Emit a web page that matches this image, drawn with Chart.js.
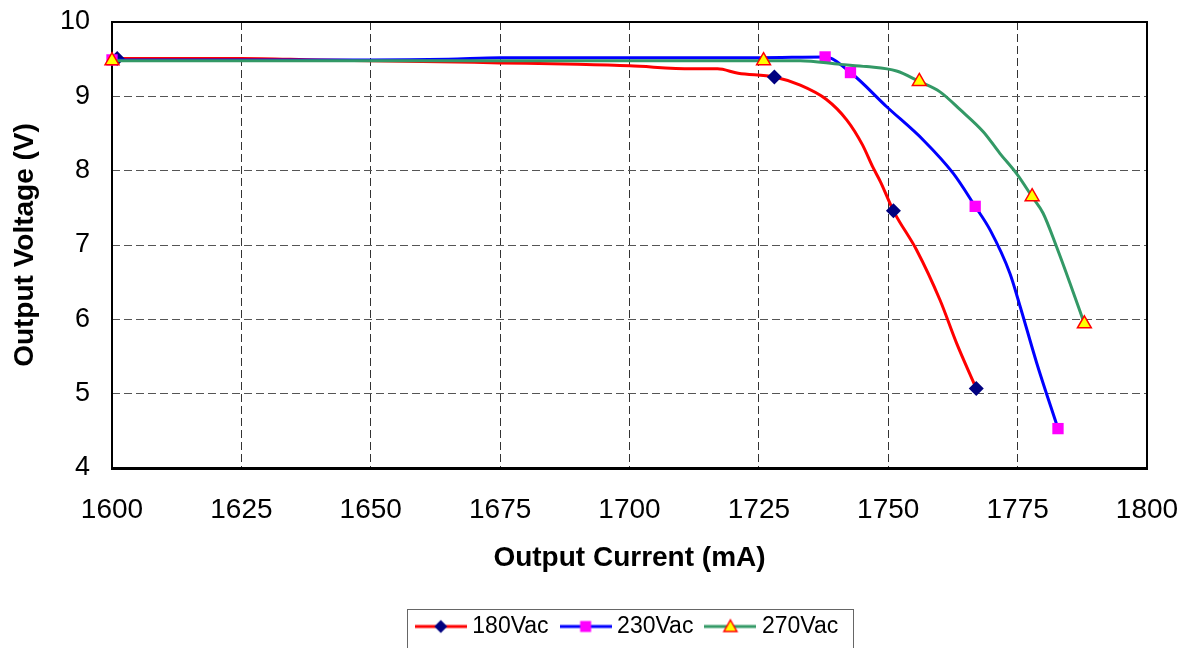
<!DOCTYPE html>
<html>
<head>
<meta charset="utf-8">
<script src="https://cdn.jsdelivr.net/npm/chart.js@4.4.1/dist/chart.umd.min.js"></script>
<style>
  html, body { margin: 0; padding: 0; background: #fff; }
</style>
</head>
<body>
<canvas id="ivChart" width="1190" height="648"></canvas>
<script>
// Output current (mA) vs output voltage (V), three input voltages
const seriesNames = ['180Vac', '230Vac', '270Vac'];

const current180 = [1601, 1625, 1640, 1660, 1675, 1690, 1700, 1712, 1717, 1721, 1728, 1733, 1738, 1742, 1745, 1747, 1748.5, 1751, 1755.5, 1760, 1763.2, 1767];
const voltage180 = [9.51, 9.51, 9.49, 9.47, 9.45, 9.43, 9.41, 9.37, 9.37, 9.31, 9.26, 9.15, 8.96, 8.68, 8.35, 8.05, 7.85, 7.46, 6.93, 6.26, 5.68, 5.07];
const marked180 = [0, 10, 17, 21];

const current230 = [1600, 1625, 1650, 1665, 1675, 1700, 1725, 1737.8, 1742.7, 1749.7, 1756.8, 1762.6, 1766.8, 1769.7, 1773.5, 1775.5, 1778.7, 1782.8];
const voltage230 = [9.49, 9.49, 9.49, 9.50, 9.52, 9.52, 9.52, 9.53, 9.32, 8.86, 8.41, 7.96, 7.52, 7.20, 6.62, 6.17, 5.41, 4.53];
const marked230 = [0, 7, 8, 12, 17];

const current270 = [1600, 1650, 1700, 1725.9, 1733, 1740.7, 1745.8, 1751.6, 1756, 1760, 1763.9, 1768.4, 1771.6, 1774.8, 1777.8, 1779.9, 1782.5, 1785.1, 1787.9];
const voltage270 = [9.48, 9.48, 9.48, 9.48, 9.48, 9.43, 9.40, 9.34, 9.20, 9.06, 8.82, 8.52, 8.23, 7.96, 7.65, 7.43, 6.98, 6.49, 5.94];
const marked270 = [0, 3, 8, 14, 18];

// axis ranges / tick steps
const xMin = 1600, xMax = 1800, xStep = 25;
const yMin = 4, yMax = 10, yStep = 1;

const FONT = 'Arial, "Liberation Sans", sans-serif';
Chart.defaults.font.family = FONT;
Chart.defaults.color = '#000';

function toPoints(xs, ys) {
    return xs.map((x, i) => ({ x: x, y: ys[i] }));
}

function radii(count, marked, r) {
    const out = [];
    for (let i = 0; i < count; i++) out.push(marked.includes(i) ? r : 0);
    return out;
}

// small line+marker picture for each legend entry
function legendIcon(lineColor, shape, fill, stroke, bw) {
    const c = document.createElement('canvas');
    c.width = 52; c.height = 18;
    const g = c.getContext('2d');
    g.strokeStyle = lineColor;
    g.lineWidth = 3;
    g.beginPath(); g.moveTo(0, 9); g.lineTo(52, 9); g.stroke();
    g.fillStyle = fill;
    g.strokeStyle = stroke;
    g.lineWidth = bw;
    g.beginPath();
    if (shape === 'diamond') {
        g.moveTo(26, 2.5); g.lineTo(32.5, 9); g.lineTo(26, 15.5); g.lineTo(19.5, 9);
    } else if (shape === 'square') {
        g.rect(20.5, 3.5, 11, 11);
    } else {
        g.moveTo(26, 2.5); g.lineTo(32.5, 14); g.lineTo(19.5, 14);
    }
    g.closePath();
    g.fill();
    if (bw > 0) g.stroke();
    return c;
}

const icons = [
    legendIcon('#ff0000', 'diamond', '#000080', '#000080', 0),
    legendIcon('#0000ff', 'square', '#ff00ff', '#ff00ff', 0),
    legendIcon('#339966', 'triangle', '#ffff00', '#ff0000', 1.5)
];

// plot frame, drawn under the marks
const plotFrame = {
    id: 'plotFrame',
    beforeDatasetsDraw(chart) {
        const { ctx, chartArea: a } = chart;
        ctx.save();
        ctx.strokeStyle = '#000';
        ctx.lineWidth = 2;
        ctx.strokeRect(a.left, a.top, a.right - a.left, a.bottom - a.top);
        ctx.lineWidth = 3;
        ctx.beginPath();
        ctx.moveTo(a.left - 1, a.bottom + 0.5);
        ctx.lineTo(a.right + 1, a.bottom + 0.5);
        ctx.stroke();
        ctx.restore();
    }
};

// border round the legend
const legendFrame = {
    id: 'legendFrame',
    afterDraw(chart) {
        const lg = chart.legend;
        const hb = lg.legendHitBoxes;
        if (!hb || !hb.length) return;
        const first = hb[0], last = hb[hb.length - 1];
        const ctx = chart.ctx;
        const left = first.left - 14;
        const right = last.left + last.width + 15;
        ctx.save();
        ctx.strokeStyle = '#666';
        ctx.lineWidth = 1;
        ctx.strokeRect(Math.round(left) + 0.5, Math.round(lg.top + 11) + 0.5, Math.round(right - left), 60);
        ctx.restore();
    }
};

const ctx = document.getElementById('ivChart').getContext('2d');
const ivChart = new Chart(ctx, {
    type: 'scatter',
    data: {
        datasets: [{
            label: seriesNames[0],
            data: toPoints(current180, voltage180),
            showLine: true,
            borderColor: '#ff0000',
            borderWidth: 3,
            cubicInterpolationMode: 'monotone',
            pointStyle: 'rectRot',
            pointRadius: radii(current180.length, marked180, 7.5),
            pointBackgroundColor: '#000080',
            pointBorderColor: '#000080',
            pointBorderWidth: 0,
            clip: false,
            order: 2
        }, {
            label: seriesNames[1],
            data: toPoints(current230, voltage230),
            showLine: true,
            borderColor: '#0000ff',
            borderWidth: 3,
            cubicInterpolationMode: 'monotone',
            pointStyle: 'rect',
            pointRadius: radii(current230.length, marked230, 8),
            pointBackgroundColor: '#ff00ff',
            pointBorderColor: '#ff00ff',
            pointBorderWidth: 0,
            clip: false,
            order: 1
        }, {
            label: seriesNames[2],
            data: toPoints(current270, voltage270),
            showLine: true,
            borderColor: '#339966',
            borderWidth: 3,
            cubicInterpolationMode: 'monotone',
            pointStyle: 'triangle',
            pointRadius: radii(current270.length, marked270, 8),
            pointBackgroundColor: '#ffff00',
            pointBorderColor: '#ff0000',
            pointBorderWidth: 1.5,
            clip: false,
            order: 0
        }]
    },
    options: {
        responsive: false,
        animation: false,
        layout: { padding: { top: 22, right: 43, bottom: 0, left: 0 } },
        plugins: {
            tooltip: { enabled: false },
            legend: {
                position: 'bottom',
                fullSize: false,
                labels: {
                    usePointStyle: true,
                    pointStyleWidth: 40,
                    padding: 17,
                    color: '#000',
                    font: { size: 23, family: FONT },
                    sort: (a, b) => a.datasetIndex - b.datasetIndex,
                    generateLabels(chart) {
                        const items = Chart.defaults.plugins.legend.labels.generateLabels(chart);
                        items.forEach(it => { it.pointStyle = icons[it.datasetIndex]; });
                        return items;
                    }
                }
            }
        },
        scales: {
            x: {
                type: 'linear',
                min: xMin,
                max: xMax,
                afterFit(scale) {
                    scale.height = 130;
                    scale.paddingLeft = 0;
                    scale.paddingRight = 0;
                },
                ticks: { stepSize: xStep, padding: 25, font: { size: 28 }, maxRotation: 0, callback: v => String(v) },
                grid: { color: '#333', drawTicks: false, lineWidth: 1 },
                border: { display: false, dash: [8, 4] },
                title: {
                    display: true,
                    text: 'Output Current (mA)',
                    font: { size: 28, weight: 'bold' },
                    padding: { top: 0, bottom: 23 }
                }
            },
            y: {
                min: yMin,
                max: yMax,
                afterFit(scale) {
                    scale.width = 112;
                    scale.paddingTop = 0;
                    scale.paddingBottom = 0;
                },
                ticks: { stepSize: yStep, padding: 22, font: { size: 27 }, callback: v => String(v) },
                grid: { color: '#555', drawTicks: false, lineWidth: 1 },
                border: { display: false, dash: [8, 4] },
                title: {
                    display: true,
                    text: 'Output Voltage (V)',
                    font: { size: 28, weight: 'bold' },
                    padding: { top: 8, bottom: 0 }
                }
            }
        }
    },
    plugins: [plotFrame, legendFrame]
});
</script>
</body>
</html>
